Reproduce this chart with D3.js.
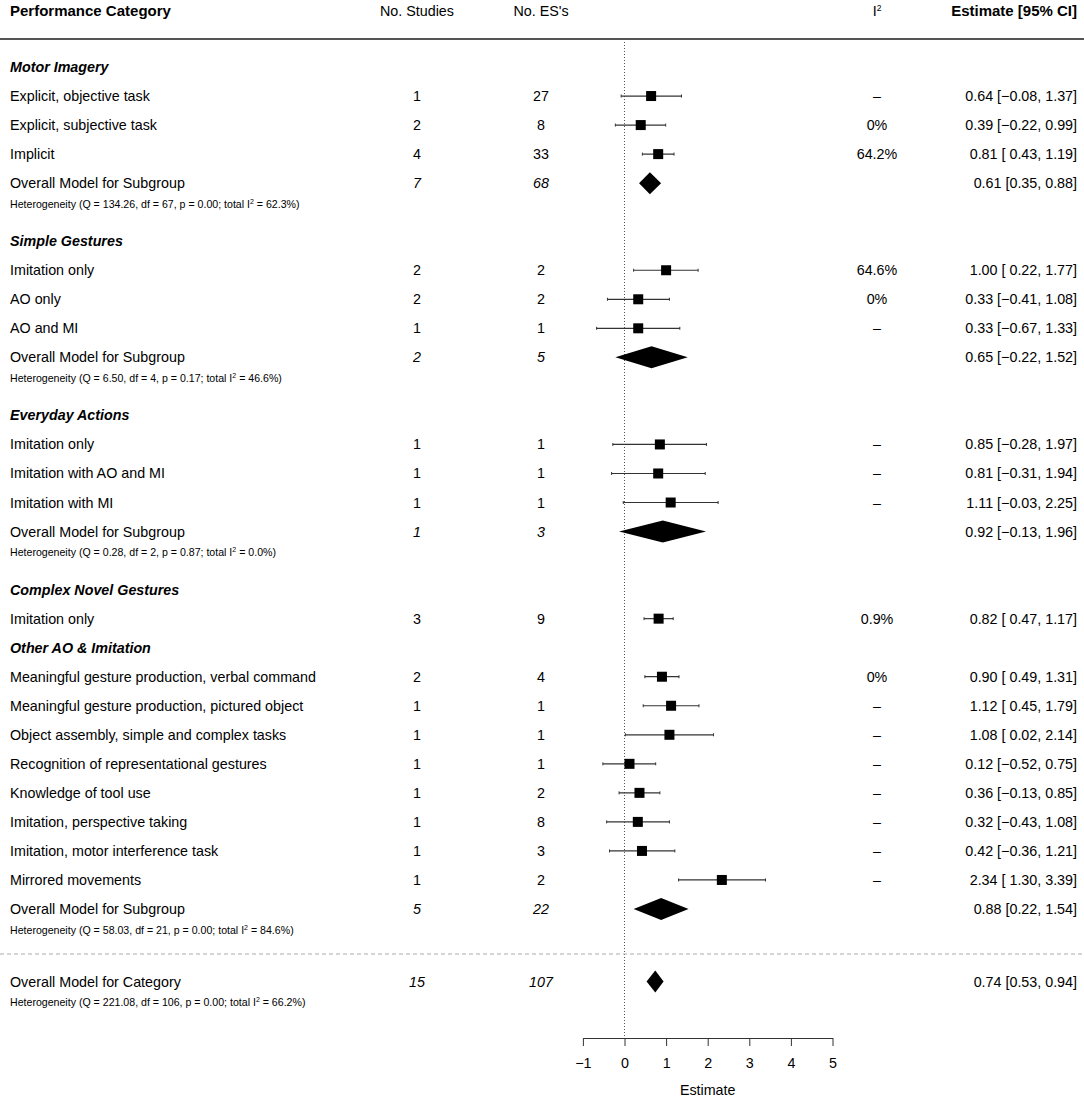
<!DOCTYPE html>
<html>
<head>
<meta charset="utf-8">
<script src="https://cdn.jsdelivr.net/npm/d3@7"></script>
<style>
  body { margin: 0; background: #fff; }
  svg { display: block; font-family: "Liberation Sans", Arial, Helvetica, sans-serif; }
</style>
</head>
<body>
<div id="forest"></div>
<script>
// Subgroup names
const groups = ['Motor Imagery', 'Simple Gestures', 'Everyday Actions', 'Complex Novel Gestures', 'Other AO & Imitation'];

// Study-level rows: group index, label, no. studies, no. ES's, I2, estimate, lower, upper
const rowGroup = [0, 0, 0, 1, 1, 1, 2, 2, 2, 3, 4, 4, 4, 4, 4, 4, 4, 4];
const rowLabels = [
  'Explicit, objective task', 'Explicit, subjective task', 'Implicit',
  'Imitation only', 'AO only', 'AO and MI',
  'Imitation only', 'Imitation with AO and MI', 'Imitation with MI',
  'Imitation only',
  'Meaningful gesture production, verbal command', 'Meaningful gesture production, pictured object',
  'Object assembly, simple and complex tasks', 'Recognition of representational gestures',
  'Knowledge of tool use', 'Imitation, perspective taking', 'Imitation, motor interference task',
  'Mirrored movements'
];
const rowStudies = [1, 2, 4, 2, 2, 1, 1, 1, 1, 3, 2, 1, 1, 1, 1, 1, 1, 1];
const rowES = [27, 8, 33, 2, 2, 1, 1, 1, 1, 9, 4, 1, 1, 1, 2, 8, 3, 2];
const rowI2 = ['–', '0%', '64.2%', '64.6%', '0%', '–', '–', '–', '–', '0.9%', '0%', '–', '–', '–', '–', '–', '–', '–'];
const rowEst = [0.64, 0.39, 0.81, 1.00, 0.33, 0.33, 0.85, 0.81, 1.11, 0.82, 0.90, 1.12, 1.08, 0.12, 0.36, 0.32, 0.42, 2.34];
const rowLo = [-0.08, -0.22, 0.43, 0.22, -0.41, -0.67, -0.28, -0.31, -0.03, 0.47, 0.49, 0.45, 0.02, -0.52, -0.13, -0.43, -0.36, 1.30];
const rowHi = [1.37, 0.99, 1.19, 1.77, 1.08, 1.33, 1.97, 1.94, 2.25, 1.17, 1.31, 1.79, 2.14, 0.75, 0.85, 1.08, 1.21, 3.39];

// Subgroup summaries (null = no summary row)
const subStudies = [7, 2, 1, null, 5];
const subES = [68, 5, 3, null, 22];
const subEst = [0.61, 0.65, 0.92, null, 0.88];
const subLo = [0.35, -0.22, -0.13, null, 0.22];
const subHi = [0.88, 1.52, 1.96, null, 1.54];
const subHet = [
  ['Q = 134.26, df = 67, p = 0.00; total I', '2', ' = 62.3%)'],
  ['Q = 6.50, df = 4, p = 0.17; total I', '2', ' = 46.6%)'],
  ['Q = 0.28, df = 2, p = 0.87; total I', '2', ' = 0.0%)'],
  null,
  ['Q = 58.03, df = 21, p = 0.00; total I', '2', ' = 84.6%)']
];

// Overall model
const totStudies = 15, totES = 107, totEst = 0.74, totLo = 0.53, totHi = 0.94;
const totHet = ['Q = 221.08, df = 106, p = 0.00; total I', '2', ' = 66.2%)'];

const xTicks = [-1, 0, 1, 2, 3, 4, 5];

const W = 1084, H = 1098;
const svg = d3.select('#forest').append('svg').attr('width', W).attr('height', H);

const x = d3.scaleLinear().domain([-1, 5]).range([582.9, 832.5]);
const y = d3.scaleLinear().domain([0, 29]).range([67, 909]);

const colLabel = 10, colStudies = 417, colES = 541, colI2 = 877, colEst = 1077;
const fs = 14.3;

const fmt = v => d3.format('.2f')(v);
const fmtCI = (e, lo, hi, pad) =>
  `${fmt(e)} [${pad && lo >= 0 ? ' ' : ''}${fmt(lo)}, ${fmt(hi)}]`.replace(/-/g, '\u2212');

// Lay out rows
const items = [];
let r = 0;
groups.forEach((g, gi) => {
  items.push({ type: 'header', row: r, label: g });
  r++;
  rowGroup.forEach((gg, i) => {
    if (gg !== gi) return;
    items.push({ type: 'study', row: r, i });
    r++;
  });
  if (subEst[gi] !== null) {
    items.push({ type: 'sub', row: r, gi });
    r += 2;
  }
});
const totRow = 31.5, dashRow = 30.55, axisY = 1038;

// Header
const head = svg.append('g').attr('transform', 'translate(0,15.5)').style('font-size', fs + 'px');
head.append('text').attr('x', colLabel).style('font-weight', 'bold').style('font-size', '15px').text('Performance Category');
head.append('text').attr('x', colStudies).attr('text-anchor', 'middle').text('No. Studies');
head.append('text').attr('x', colES).attr('text-anchor', 'middle').text("No. ES's");
const i2h = head.append('text').attr('x', colI2).attr('text-anchor', 'middle');
i2h.append('tspan').text('I');
i2h.append('tspan').attr('dy', -5).style('font-size', '8.5px').text('2');
head.append('text').attr('x', colEst).attr('text-anchor', 'end').style('font-weight', 'bold').style('font-size', '15px').text('Estimate [95% CI]');

svg.append('line').attr('x1', 0).attr('x2', W).attr('y1', 39).attr('y2', 39)
  .attr('stroke', '#555').attr('stroke-width', 2.2);

// Reference line at zero
svg.append('line').attr('x1', x(0)).attr('x2', x(0)).attr('y1', 42).attr('y2', axisY)
  .attr('stroke', '#555').attr('stroke-width', 1).attr('stroke-dasharray', '1,2');

// Dashed separator
svg.append('line').attr('x1', 0).attr('x2', W).attr('y1', y(dashRow)).attr('y2', y(dashRow))
  .attr('stroke', '#aaa').attr('stroke-width', 1).attr('stroke-dasharray', '4,3');

const body = svg.append('g').style('font-size', fs + 'px');

function text(xp, row, str, anchor, style) {
  const t = body.append('text').attr('x', xp).attr('y', y(row)).attr('dy', '0.35em')
    .attr('text-anchor', anchor || 'start').text(str);
  if (style === 'i') t.style('font-style', 'italic');
  if (style === 'bi') t.style('font-style', 'italic').style('font-weight', 'bold');
  return t;
}

function het(row, parts) {
  const t = body.append('text').attr('x', colLabel).attr('y', y(row) + 21).attr('dy', '0.35em')
    .style('font-size', '10.6px');
  t.append('tspan').text('Heterogeneity (' + parts[0]);
  t.append('tspan').attr('dy', -4).style('font-size', '7px').text(parts[1]);
  t.append('tspan').attr('dy', 4).text(parts[2]);
}

function diamond(row, e, lo, hi) {
  const cy = y(row), h = 11;
  body.append('path')
    .attr('d', `M${x(lo)},${cy}L${x(e)},${cy - h}L${x(hi)},${cy}L${x(e)},${cy + h}Z`)
    .attr('fill', '#000');
}

items.forEach(it => {
  if (it.type === 'header') {
    text(colLabel, it.row, it.label, 'start', 'bi');
  } else if (it.type === 'study') {
    const i = it.i, cy = y(it.row);
    text(colLabel, it.row, rowLabels[i]);
    text(colStudies, it.row, rowStudies[i], 'middle');
    text(colES, it.row, rowES[i], 'middle');
    text(colI2, it.row, rowI2[i], 'middle');
    text(colEst, it.row, fmtCI(rowEst[i], rowLo[i], rowHi[i], true), 'end');
    body.append('line').attr('x1', x(rowLo[i])).attr('x2', x(rowHi[i])).attr('y1', cy).attr('y2', cy)
      .attr('stroke', '#333').attr('stroke-width', 1.2);
    [rowLo[i], rowHi[i]].forEach(v => {
      body.append('line').attr('x1', x(v)).attr('x2', x(v)).attr('y1', cy - 1.5).attr('y2', cy + 1.5)
        .attr('stroke', '#333').attr('stroke-width', 1);
    });
    body.append('rect').attr('x', x(rowEst[i]) - 5).attr('y', cy - 5).attr('width', 10).attr('height', 10)
      .attr('fill', '#000');
  } else {
    const gi = it.gi;
    text(colLabel, it.row, 'Overall Model for Subgroup');
    text(colStudies, it.row, subStudies[gi], 'middle', 'i');
    text(colES, it.row, subES[gi], 'middle', 'i');
    text(colEst, it.row, fmtCI(subEst[gi], subLo[gi], subHi[gi], false), 'end');
    diamond(it.row, subEst[gi], subLo[gi], subHi[gi]);
    het(it.row, subHet[gi]);
  }
});

// Overall model for category
text(colLabel, totRow, 'Overall Model for Category');
text(colStudies, totRow, totStudies, 'middle', 'i');
text(colES, totRow, totES, 'middle', 'i');
text(colEst, totRow, fmtCI(totEst, totLo, totHi, false), 'end');
diamond(totRow, totEst, totLo, totHi);
het(totRow, totHet);

// X axis
const axis = svg.append('g').attr('transform', `translate(0,${axisY})`)
  .call(d3.axisBottom(x).tickValues(xTicks).tickSize(8).tickSizeOuter(0).tickPadding(12)
    .tickFormat(d3.format('d')));
axis.selectAll('text').style('font-size', fs + 'px').style('font-family', 'inherit').attr('fill', '#000');
axis.selectAll('line, path').attr('stroke', '#333');

svg.append('text').attr('x', x(2)).attr('y', 1095).attr('text-anchor', 'middle')
  .style('font-size', fs + 'px').text('Estimate');
</script>
</body>
</html>
